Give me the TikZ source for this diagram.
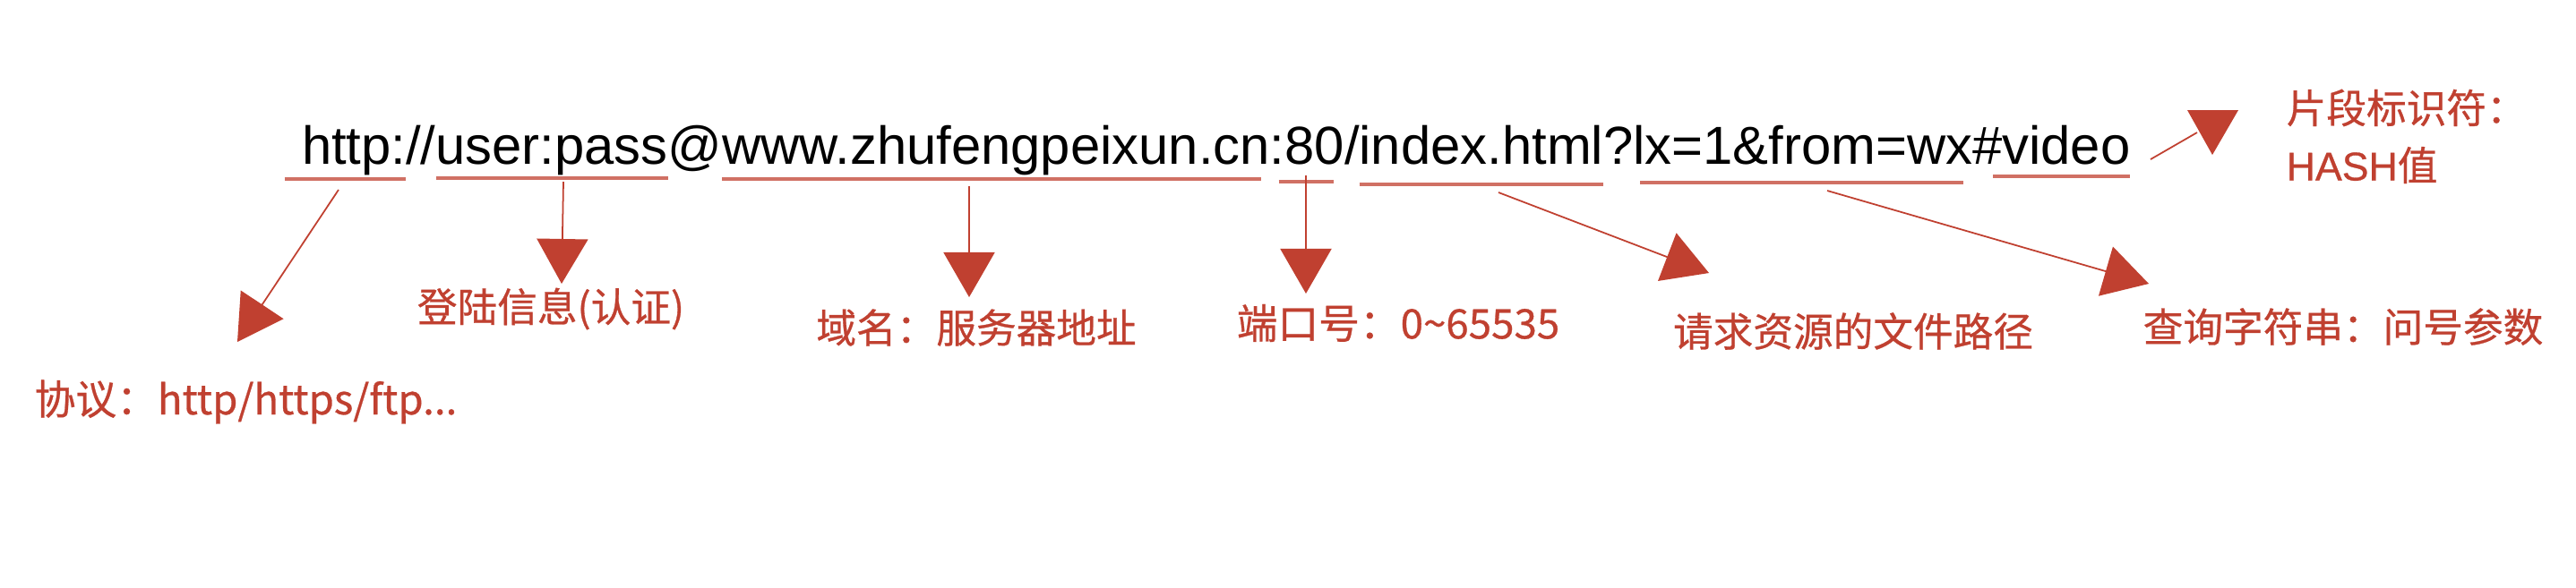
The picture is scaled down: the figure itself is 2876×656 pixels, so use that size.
\documentclass[tikz,border=0pt]{standalone}
\usepackage{fontspec}
\setmainfont{Liberation Sans}
\newfontfamily\cjk{Noto Sans CJK SC}[FakeBold=0.6]
\newfontfamily\lat{Liberation Sans}[FakeBold=0.6]
\usetikzlibrary{arrows.meta,positioning}
\definecolor{urlred}{RGB}{192,64,48}

\begin{document}
\begin{tikzpicture}[x=0.01cm,y=-0.01cm,>={Triangle[length=0.5cm,width=0.57cm]},
        seg/.style={inner sep=0,outer sep=0,font=\fontsize{17}{20}\selectfont},
        uline/.style={draw=urlred!75,line width=0.9pt},
        hint/.style={->,draw=urlred,fill=urlred,line width=0.5pt},
        lbl/.style={text=urlred,inner sep=0,font=\lat\fontsize{12.7}{18.2}\selectfont}]
        \useasboundingbox[fill=white] (0,0) rectangle (2876,656);
        \node[seg,anchor=base west] (proto) at (337,183) {http};
        \node[seg,base right=0pt of proto] (sepa) {://};
        \node[seg,base right=0pt of sepa] (auth) {user:pass};
        \node[seg,base right=0pt of auth] (sepb) {@};
        \node[seg,base right=0pt of sepb] (host) {www.zhufengpeixun.cn};
        \node[seg,base right=0pt of host] (sepc) {:};
        \node[seg,base right=0pt of sepc] (port) {80};
        \node[seg,base right=0pt of port] (sepd) {/};
        \node[seg,base right=0pt of sepd] (path) {index.html};
        \node[seg,base right=0pt of path] (sepe) {?};
        \node[seg,base right=0pt of sepe] (query) {lx=1\&from=wx};
        \node[seg,base right=0pt of query] (sepf) {\#};
        \node[seg,base right=0pt of sepf] (frag) {video};
        \draw[uline] ([xshift=-0.19cm,yshift=-0.17cm]proto.base west) -- ([xshift=0.16cm,yshift=-0.17cm]proto.base east);
        \draw[uline] ([yshift=-0.16cm]auth.base west) -- ([yshift=-0.16cm]auth.base east);
        \draw[uline] ([yshift=-0.17cm]host.base west) -- ([xshift=-0.1cm,yshift=-0.17cm]host.base east);
        \draw[uline] ([xshift=-0.07cm,yshift=-0.2cm]port.base west) -- ([xshift=-0.12cm,yshift=-0.2cm]port.base east);
        \draw[uline] ([yshift=-0.23cm]path.base west) -- ([yshift=-0.23cm]path.base east);
        \draw[uline] ([xshift=0.08cm,yshift=-0.21cm]query.base west) -- ([xshift=-0.1cm,yshift=-0.21cm]query.base east);
        \draw[uline] ([xshift=-0.1cm,yshift=-0.14cm]frag.base west) -- ([yshift=-0.14cm]frag.base east);
        \node[lbl,font=\lat\fontsize{13}{18}\selectfont,anchor=base west] (lproto) at (38,463) {\cjk{协议：}http/https/ftp...};
        \node[lbl] (lauth) at (615,345) {\cjk{登陆信息(认证)}};
        \node[lbl] (lhost) at (1090,366) {\cjk{域名：服务器地址}};
        \node[lbl,font=\lat\fontsize{13}{18}\selectfont] (lport) at (1561,361) {\cjk{端口号：}0\textasciitilde65535};
        \node[lbl] (lpath) at (2069,370) {\cjk{请求资源的文件路径}};
        \node[lbl] (lquery) at (2616,365) {\cjk{查询字符串：问号参数}};
        \node[lbl,align=left,anchor=north west] (lfrag) at (2552,99) {\cjk{片段标识符：}\\HASH\cjk{值}};
        \coordinate (aproto) at (378,212);
        \coordinate (tproto) at (265,382);
        \coordinate (aauth) at (629,203);
        \coordinate (tauth) at (627,317);
        \coordinate (ahost) at (1082,208);
        \coordinate (thost) at (1082,332);
        \coordinate (aport) at (1458,196);
        \coordinate (tport) at (1458,328);
        \coordinate (apath) at (1673,215);
        \coordinate (tpath) at (1908,305);
        \coordinate (aquery) at (2040,213);
        \coordinate (tquery) at (2399,317);
        \coordinate (afrag) at (2401,178);
        \coordinate (tfrag) at (2453,148);
        \draw[hint] (aproto) -- (tproto);
        \draw[hint] (aauth) -- (tauth);
        \draw[hint] (ahost) -- (thost);
        \draw[hint] (aport) -- (tport);
        \draw[hint] (apath) -- (tpath);
        \draw[hint] (aquery) -- (tquery);
        \draw[draw=urlred,line width=0.5pt] (afrag) -- (tfrag);
        \fill[urlred] (2442,123) -- (2499,123) -- (2470,173) -- cycle;
\end{tikzpicture}
\end{document}
